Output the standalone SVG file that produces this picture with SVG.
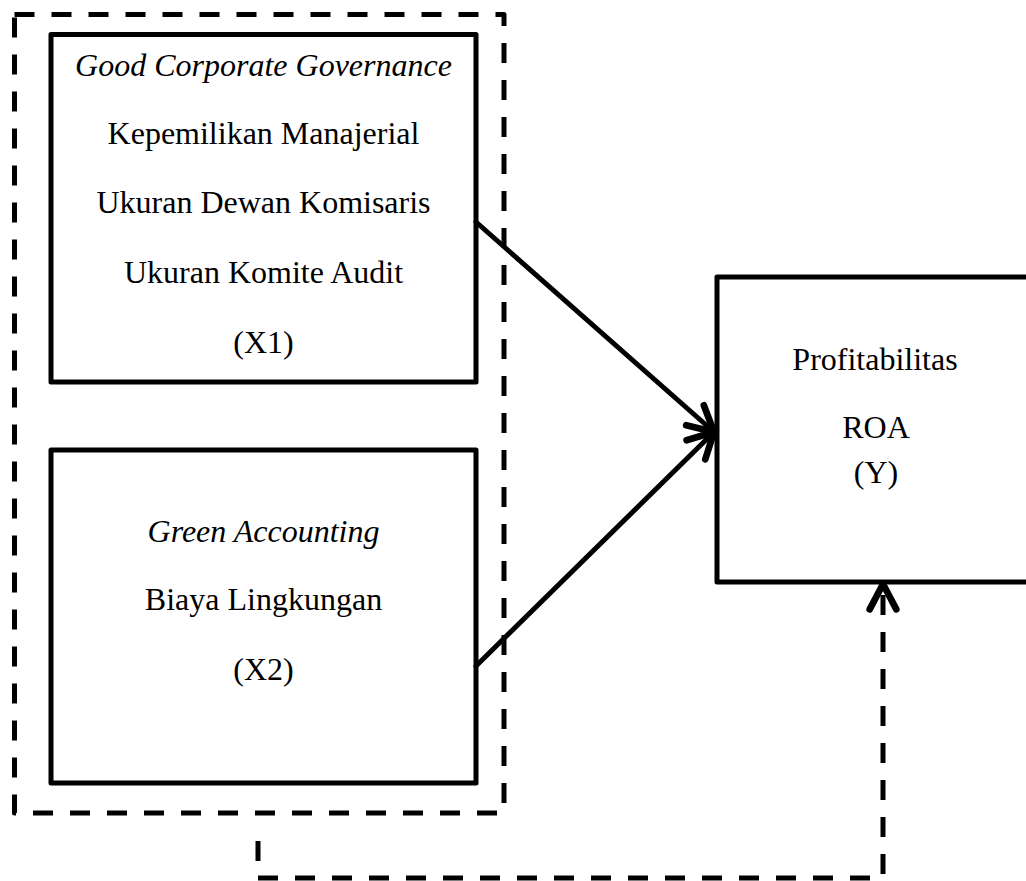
<svg xmlns="http://www.w3.org/2000/svg" width="1026" height="881" viewBox="0 0 1026 881">
<style>
.box{fill:#fff;stroke:#000;stroke-width:5;stroke-linejoin:round}
.dash{fill:none;stroke:#000;stroke-width:5;stroke-dasharray:20 17;stroke-linejoin:round}
.conn{fill:none;stroke:#000;stroke-width:5;stroke-linecap:round}
.t{font-family:"Liberation Serif","Times New Roman",serif;font-size:32px;fill:#000;text-anchor:middle}
.i{font-style:italic}
</style>
<defs>
<marker id="arr" markerUnits="userSpaceOnUse" orient="auto" refX="0" refY="0" markerWidth="40" markerHeight="40" viewBox="-25 -15 30 30" overflow="visible">
<path d="M-19,-10 L0,0 L-19,10" fill="none" stroke="#000" stroke-width="5" stroke-linecap="round" stroke-linejoin="round" stroke-dasharray="none"/>
</marker>
</defs>
<rect width="1026" height="881" fill="#fff"/>
<g id="group-outline">
<path class="dash" d="M14.5,14.5 H504 V813 H14.5 Z"/>
</g>
<g id="node-x1">
<rect class="box" x="51" y="34.5" width="425" height="347.5"/>
<text class="t i" x="263.5" y="76">Good Corporate Governance</text>
<text class="t" x="263.5" y="144">Kepemilikan Manajerial</text>
<text class="t" x="263.5" y="213">Ukuran Dewan Komisaris</text>
<text class="t" x="263.5" y="283">Ukuran Komite Audit</text>
<text class="t" x="263.5" y="353">(X1)</text>
</g>
<g id="node-x2">
<rect class="box" x="51" y="450" width="425" height="333"/>
<text class="t i" x="263.5" y="542">Green Accounting</text>
<text class="t" x="263.5" y="610">Biaya Lingkungan</text>
<text class="t" x="263.5" y="680">(X2)</text>
</g>
<g id="node-y">
<rect class="box" x="717" y="277" width="340" height="305"/>
<text class="t" x="875" y="370">Profitabilitas</text>
<text class="t" x="876" y="438">ROA</text>
<text class="t" x="876" y="483">(Y)</text>
</g>
<g id="connectors">
<line class="conn" x1="476" y1="222" x2="714" y2="432" marker-end="url(#arr)"/>
<line class="conn" x1="476" y1="666" x2="714" y2="432" marker-end="url(#arr)"/>
<path class="dash" d="M258,841 V878 H883 V584" marker-end="url(#arr)"/>
</g>
</svg>
